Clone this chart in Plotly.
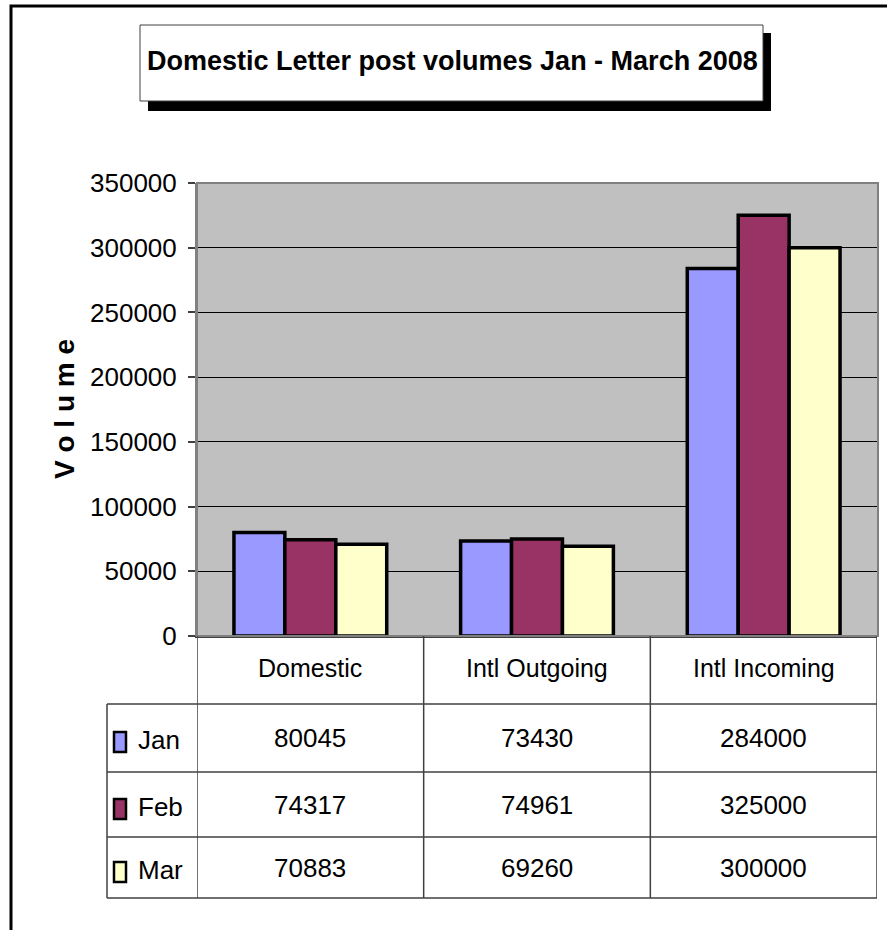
import plotly.graph_objects as go

# ---------------- data ----------------
categories = ["Domestic", "Intl Outgoing", "Intl Incoming"]
months = ["Jan", "Feb", "Mar"]
jan_values = [80045, 73430, 284000]
feb_values = [74317, 74961, 325000]
mar_values = [70883, 69260, 300000]
series_values = [jan_values, feb_values, mar_values]
series_colors = ["#9999FF", "#993366", "#FFFFCC"]
y_ticks = [0, 50000, 100000, 150000, 200000, 250000, 300000, 350000]
title_text = "Domestic Letter post volumes Jan - March 2008"
y_title = "V o l u m e"

W, H = 887, 930
FONT = "Liberation Sans, Arial, sans-serif"


def px(x):
    return x / W


def py(y):
    return 1 - y / H


fig = go.Figure()
for name, vals, col in zip(months, series_values, series_colors):
    fig.add_trace(go.Bar(
        x=categories, y=vals, name=name,
        marker=dict(color=col, line=dict(color="black", width=3.5)),
        showlegend=False, hoverinfo="x+y+name",
    ))

shapes = []
annotations = []

# outer chart border
shapes.append(dict(type="rect", xref="paper", yref="paper",
                   x0=px(11), x1=px(W + 20), y0=py(H + 20), y1=py(6),
                   line=dict(color="black", width=3), fillcolor="rgba(0,0,0,0)", layer="below"))

# title box shadow + box
shapes.append(dict(type="rect", xref="paper", yref="paper",
                   x0=px(148), x1=px(771), y0=py(111), y1=py(33),
                   line=dict(width=0), fillcolor="black", layer="below"))
shapes.append(dict(type="rect", xref="paper", yref="paper",
                   x0=px(140), x1=px(763), y0=py(101), y1=py(25),
                   line=dict(color="#404040", width=1), fillcolor="white", layer="below"))
annotations.append(dict(text="<b>" + title_text + "</b>", xref="paper", yref="paper",
                        x=px(452), y=py(61), showarrow=False,
                        font=dict(family=FONT, size=27, color="black"),
                        xanchor="center", yanchor="middle"))

# plot area border (grey)
shapes.append(dict(type="rect", xref="paper", yref="paper",
                   x0=px(197), x1=px(878), y0=py(636), y1=py(183),
                   line=dict(color="#808080", width=2), fillcolor="rgba(0,0,0,0)"))

# y axis title
annotations.append(dict(text="<b>" + y_title + "</b>", xref="paper", yref="paper",
                        x=px(65), y=py(409), showarrow=False, textangle=-90,
                        font=dict(family=FONT, size=28, color="black"),
                        xanchor="center", yanchor="middle"))

# ---------------- data table ----------------
row_lines = [704, 772, 837, 898]
row_centers = [738, 805, 868]
header_center = 668
table_left = 107
line_col = "#404040"

n = len(categories)
for i in range(n + 1):
    shapes.append(dict(type="line", xref="x", yref="paper",
                       x0=i - 0.5, x1=i - 0.5, y0=py(636), y1=py(898),
                       line=dict(color=line_col, width=1.5)))
shapes.append(dict(type="line", xref="paper", yref="paper",
                   x0=px(table_left), x1=px(table_left), y0=py(704), y1=py(898),
                   line=dict(color=line_col, width=1.5)))
for ry in row_lines:
    shapes.append(dict(type="line", xref="paper", yref="paper",
                       x0=px(table_left), x1=px(877), y0=py(ry), y1=py(ry),
                       line=dict(color=line_col, width=1.5)))

for c in categories:
    annotations.append(dict(text=c, xref="x", yref="paper", x=c, y=py(header_center),
                            showarrow=False, font=dict(family=FONT, size=25, color="black"),
                            xanchor="center", yanchor="middle"))

for r, (name, vals, col) in enumerate(zip(months, series_values, series_colors)):
    cy = row_centers[r]
    shapes.append(dict(type="rect", xref="paper", yref="paper",
                       x0=px(114), x1=px(126), y0=py(cy + 14), y1=py(cy - 6),
                       line=dict(color="black", width=2.5), fillcolor=col))
    annotations.append(dict(text=name, xref="paper", yref="paper", x=px(136), y=py(cy + 2),
                            showarrow=False, font=dict(family=FONT, size=26, color="black"),
                            xanchor="left", yanchor="middle"))
    for c, v in zip(categories, vals):
        annotations.append(dict(text=str(v), xref="x", yref="paper", x=c, y=py(cy),
                                showarrow=False, font=dict(family=FONT, size=26, color="black"),
                                xanchor="center", yanchor="middle"))

fig.update_layout(
    width=W, height=H,
    autosize=False,
    margin=dict(l=0, r=0, t=0, b=0, pad=0, autoexpand=False),
    paper_bgcolor="white",
    plot_bgcolor="#C0C0C0",
    barmode="group",
    bargap=0.326,
    bargroupgap=0,
    shapes=shapes,
    annotations=annotations,
    font=dict(family=FONT, color="black"),
    xaxis=dict(domain=[px(197), px(877)], range=[-0.5, 2.5], showticklabels=False,
               showgrid=False, zeroline=False, showline=True, linecolor="#404040",
               linewidth=2, ticks="", automargin=False),
    yaxis=dict(domain=[py(636), py(183)], range=[0, 350000], tickvals=y_ticks,
               ticktext=[str(t) for t in y_ticks],
               showgrid=True, gridcolor="black", gridwidth=1, zeroline=False,
               showline=True, linecolor="#808080", linewidth=2,
               ticks="outside", ticklen=7, tickcolor="#404040", tickwidth=1.5,
               ticklabelstandoff=6, automargin=False,
               tickfont=dict(family=FONT, size=26, color="black")),
)

fig.write_html(
    "out.html",
    config={"displayModeBar": False},
    post_script="document.body.style.margin='0';document.body.style.padding='0';",
)
